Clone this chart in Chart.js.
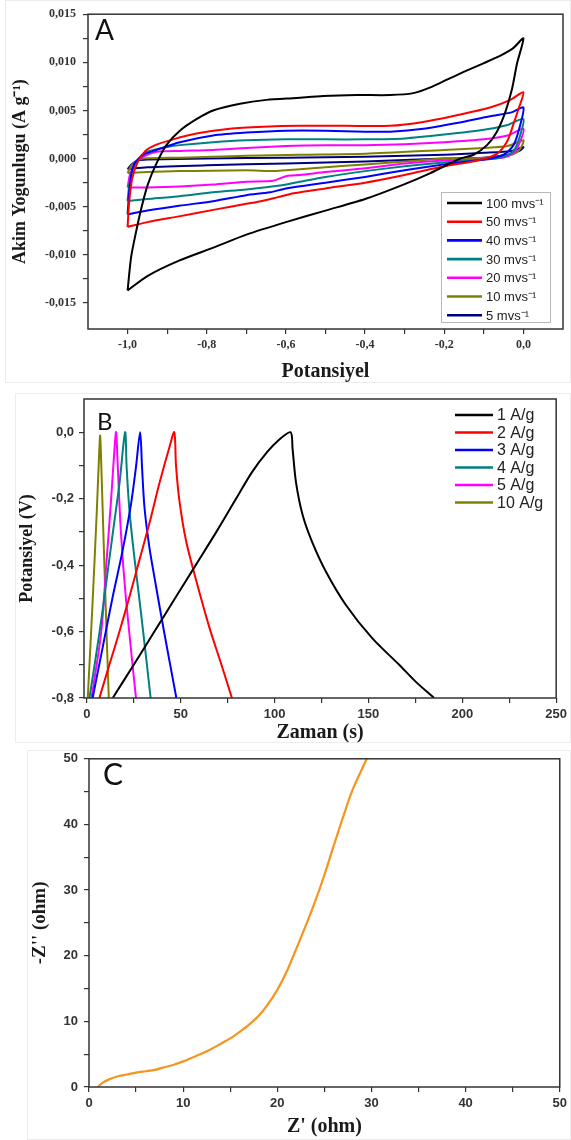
<!DOCTYPE html>
<html>
<head>
<meta charset="utf-8">
<script src="https://cdn.jsdelivr.net/npm/chart.js@4.4.1/dist/chart.umd.min.js"></script>
<style>
  html, body { margin: 0; padding: 0; background: #fff; }
  body { width: 571px; height: 1140px; overflow: hidden; }
  canvas { display: block; }
</style>
</head>
<body>
<canvas id="cvChart" width="571" height="385"></canvas>
<canvas id="gcdChart" width="571" height="360"></canvas>
<canvas id="eisChart" width="571" height="395"></canvas>
<script>
// ---------- A: cyclic voltammetry (potential V, current A/g), one loop per scan rate ----------
const cvRates = ['100 mvs⁻¹', '50 mvs⁻¹', '40 mvs⁻¹', '30 mvs⁻¹', '20 mvs⁻¹', '10 mvs⁻¹', '5 mvs⁻¹'];
const cvColors = ['#000000', '#ff0000', '#0000ff', '#008080', '#ff00ff', '#808000', '#000080'];

const cv100 = [
  [-1.0,-0.0137],[-0.991,-0.0102],[-0.978,-0.0075],[-0.965,-0.0051],[-0.949,-0.0027],[-0.927,-0.0005],
  [-0.902,0.0014],[-0.868,0.0029],[-0.826,0.0041],[-0.784,0.0050],[-0.716,0.0057],[-0.649,0.0061],
  [-0.573,0.0063],[-0.506,0.0065],[-0.421,0.0066],[-0.337,0.0066],[-0.278,0.0068],[-0.235,0.0074],
  [-0.193,0.0082],[-0.151,0.0090],[-0.101,0.0099],[-0.058,0.0107],[-0.025,0.0115],[0.0,0.0125],
  [-0.016,0.0099],[-0.029,0.0072],[-0.046,0.0048],[-0.067,0.0028],[-0.092,0.0014],[-0.126,0.0004],
  [-0.16,0.0],[-0.235,-0.0015],[-0.303,-0.0027],[-0.40,-0.0042],[-0.50,-0.0054],[-0.60,-0.0066],
  [-0.70,-0.0079],[-0.78,-0.0092],[-0.87,-0.0106],[-0.95,-0.0122],[-1.0,-0.0137]
];
const cv50 = [
  [-1.0,-0.0071],[-0.996,-0.0045],[-0.988,-0.0020],[-0.975,-0.0004],[-0.955,0.0008],[-0.93,0.0014],
  [-0.885,0.0020],[-0.826,0.0026],[-0.742,0.0031],[-0.657,0.0033],[-0.565,0.0034],[-0.45,0.0034],
  [-0.337,0.0034],[-0.253,0.0038],[-0.168,0.0045],[-0.084,0.0053],[-0.033,0.0061],[0.0,0.0069],
  [-0.012,0.0052],[-0.025,0.0036],[-0.041,0.0018],[-0.067,0.0005],[-0.117,-0.0002],[-0.2,-0.0008],
  [-0.3,-0.0017],[-0.4,-0.0025],[-0.5,-0.0031],[-0.58,-0.0036],[-0.62,-0.0040],[-0.66,-0.0044],
  [-0.70,-0.0047],[-0.78,-0.0053],[-0.87,-0.0060],[-0.95,-0.0066],[-1.0,-0.0071]
];
const cv40 = [
  [-1.0,-0.0058],[-0.996,-0.0035],[-0.99,-0.0015],[-0.982,-0.0005],[-0.96,0.0004],[-0.927,0.0009],
  [-0.868,0.0017],[-0.784,0.0024],[-0.70,0.0027],[-0.6,0.0029],[-0.5,0.0029],[-0.4,0.0028],
  [-0.337,0.0028],[-0.253,0.0031],[-0.168,0.0037],[-0.084,0.0044],[-0.03,0.0048],[0.0,0.0053],
  [-0.01,0.0032],[-0.025,0.0014],[-0.05,0.0004],[-0.1,-0.0001],[-0.2,-0.0006],[-0.3,-0.0012],
  [-0.4,-0.0019],[-0.5,-0.0025],[-0.6,-0.0031],[-0.64,-0.0035],[-0.70,-0.0038],[-0.78,-0.0044],
  [-0.87,-0.0049],[-0.95,-0.0054],[-1.0,-0.0058]
];
const cv30 = [
  [-1.0,-0.0044],[-0.995,-0.0025],[-0.985,-0.0008],[-0.97,0.0001],[-0.953,0.0007],[-0.9,0.0012],
  [-0.868,0.0014],[-0.784,0.0017],[-0.7,0.0019],[-0.6,0.0020],[-0.5,0.0020],[-0.4,0.0020],
  [-0.3,0.0021],[-0.2,0.0025],[-0.1,0.0030],[-0.04,0.0035],[0.0,0.0041],
  [-0.01,0.0022],[-0.025,0.0008],[-0.05,0.0002],[-0.1,-0.0001],[-0.2,-0.0004],[-0.3,-0.0008],
  [-0.4,-0.0013],[-0.5,-0.0019],[-0.565,-0.0024],[-0.615,-0.0028],[-0.7,-0.0032],[-0.784,-0.0035],
  [-0.868,-0.0039],[-0.95,-0.0042],[-1.0,-0.0044]
];
const cv20 = [
  [-1.0,-0.0030],[-0.993,-0.0015],[-0.98,-0.0005],[-0.96,0.0002],[-0.927,0.0007],[-0.868,0.0008],
  [-0.784,0.0009],[-0.7,0.0011],[-0.6,0.0013],[-0.5,0.0014],[-0.4,0.0014],[-0.3,0.0015],
  [-0.2,0.0017],[-0.1,0.0020],[-0.04,0.0024],[0.0,0.0031],
  [-0.01,0.0016],[-0.025,0.0006],[-0.05,0.0001],[-0.1,-0.0001],[-0.2,-0.0002],[-0.3,-0.0005],
  [-0.4,-0.0010],[-0.5,-0.0014],[-0.565,-0.0017],[-0.598,-0.0018],[-0.632,-0.0023],[-0.7,-0.0024],
  [-0.784,-0.0027],[-0.868,-0.0029],[-0.95,-0.0030],[-1.0,-0.0030]
];
const cv10 = [
  [-1.0,-0.0015],[-0.99,-0.0007],[-0.975,-0.0002],[-0.961,0.0],[-0.868,0.0001],[-0.7,0.0003],
  [-0.565,0.0004],[-0.4,0.0005],[-0.2,0.0009],[-0.1,0.0011],[-0.04,0.0013],[0.0,0.0019],
  [-0.01,0.0009],[-0.03,0.0004],[-0.1,0.0001],[-0.2,0.0],[-0.3,-0.0003],[-0.4,-0.0006],
  [-0.5,-0.0009],[-0.565,-0.0011],[-0.6,-0.0012],[-0.632,-0.0013],[-0.7,-0.0012],[-0.868,-0.0013],
  [-0.95,-0.0014],[-1.0,-0.0015]
];
const cv5 = [
  [-1.0,-0.0011],[-0.99,-0.0006],[-0.975,-0.0002],[-0.95,-0.0001],[-0.8,0.0],[-0.6,0.0001],
  [-0.4,0.0002],[-0.2,0.0004],[-0.1,0.0006],[-0.03,0.0008],[0.0,0.0012],
  [-0.01,0.0008],[-0.04,0.0004],[-0.1,0.0001],[-0.2,0.0],[-0.4,-0.0003],[-0.6,-0.0005],
  [-0.8,-0.0007],[-0.95,-0.0009],[-1.0,-0.0011]
];
const cvLoops = [cv100, cv50, cv40, cv30, cv20, cv10, cv5];
const cvVoltTicks = [-1.0, -0.8, -0.6, -0.4, -0.2, 0.0];
const cvCurrentTicks = [-0.015, -0.010, -0.005, 0.0, 0.005, 0.010, 0.015];

// ---------- B: galvanostatic charge/discharge (time s, potential V) ----------
const gcdLabels = ['1 A/g', '2 A/g', '3 A/g', '4 A/g', '5 A/g', '10 A/g'];
const gcdColors = ['#000000', '#ff0000', '#0000ff', '#008080', '#ff00ff', '#808000'];
const gcd1 = [
  [13.8,-0.8],[25,-0.70],[36,-0.60],[47,-0.50],[58,-0.40],[69,-0.30],[79,-0.205],[88,-0.12],
  [96,-0.06],[102,-0.025],[108.5,0.0],
  [109.6,-0.05],[111.4,-0.15],[115,-0.25],[120,-0.33],[127.4,-0.42],[138,-0.52],[152,-0.62],
  [166.4,-0.70],[175,-0.75],[185,-0.80]
];
const gcd2 = [
  [6.7,-0.8],[12,-0.70],[17.4,-0.60],[22.7,-0.495],[28,-0.385],[33.3,-0.275],[38.6,-0.155],
  [44,-0.045],[46.6,0.0],
  [47.5,-0.10],[49.3,-0.205],[52.8,-0.325],[58.2,-0.445],[65.2,-0.586],[71.5,-0.696],[77.3,-0.8]
];
const gcd3 = [
  [3.1,-0.8],[8.5,-0.646],[13.8,-0.495],[19.1,-0.355],[23.6,-0.214],[26.2,-0.104],[28.4,0.0],
  [29.4,-0.104],[30.7,-0.225],[33.3,-0.345],[36.9,-0.465],[41.3,-0.605],[47.7,-0.8]
];
const gcd4 = [
  [1.4,-0.8],[6.7,-0.605],[10.3,-0.455],[13.8,-0.305],[17.4,-0.154],[20.4,0.0],
  [21.2,-0.104],[22.7,-0.235],[25.3,-0.375],[28.9,-0.545],[34,-0.8]
];
const gcd5 = [
  [2.5,-0.8],[7.6,-0.605],[10.3,-0.405],[12.9,-0.205],[14.7,-0.054],[15.6,0.0],
  [16.5,-0.104],[18.2,-0.305],[20.9,-0.505],[26.2,-0.8]
];
const gcd10 = [
  [0.5,-0.8],[3.0,-0.52],[5.3,-0.24],[6.6,-0.06],[7.1,-0.01],
  [7.6,-0.08],[8.8,-0.30],[10.2,-0.55],[11.7,-0.8]
];
const gcdCurves = [gcd1, gcd2, gcd3, gcd4, gcd5, gcd10];
const gcdTimeTicks = [0, 50, 100, 150, 200, 250];
const gcdVoltTicks = [-0.8, -0.6, -0.4, -0.2, 0.0];

// ---------- C: Nyquist plot (Z' ohm, -Z'' ohm) ----------
const eisZre = [0.9, 1.5, 2.2, 3, 4, 5, 6, 7, 8, 9, 10, 11, 12, 13, 14, 15, 16, 17, 18, 19, 20, 21, 22, 23, 24, 25, 26, 27, 28, 29.5];
const eisZim = [0, 0.7, 1.2, 1.6, 1.9, 2.2, 2.4, 2.6, 3.0, 3.4, 3.9, 4.5, 5.1, 5.8, 6.6, 7.4, 8.4, 9.5, 10.8, 12.6, 14.8, 17.6, 21.0, 24.5, 28.2, 32.3, 36.8, 41.2, 45.3, 50];
const eisTicks = [0, 10, 20, 30, 40, 50];

// ---------- helpers ----------
const toPoints = arr => arr.map(p => ({ x: p[0], y: p[1] }));
const comma = (v, d) => v.toFixed(d).replace('.', ',').replace(/^-(0[,0]*)$/, '$1');

// majors plus the midpoints between them as unlabeled minor ticks
function withMinors(majors) {
  const out = [];
  majors.forEach((v, i) => {
    out.push(v);
    if (i < majors.length - 1) out.push((v + majors[i + 1]) / 2);
  });
  return out;
}
function isMajor(v, majors) {
  return majors.some(m => Math.abs(m - v) < 1e-9);
}

const frameBox = {
  id: 'frameBox',
  beforeDraw(chart, args, opts) {
    const { ctx } = chart;
    if (opts.panel) {
      const p = opts.panel;
      ctx.save();
      ctx.strokeStyle = '#ececec';
      ctx.lineWidth = 1;
      ctx.strokeRect(p[0] + 0.5, p[1] + 0.5, p[2], p[3]);
      ctx.restore();
    }
  },
  afterDraw(chart, args, opts) {
    const { ctx, chartArea: a } = chart;
    ctx.save();
    ctx.strokeStyle = '#333333';
    ctx.lineWidth = 1.5;
    ctx.strokeRect(a.left, a.top, a.right - a.left, a.bottom - a.top);
    if (opts.letter) {
      ctx.fillStyle = '#111111';
      ctx.font = opts.letterFont;
      ctx.textBaseline = 'alphabetic';
      ctx.fillText(opts.letter, opts.letterX, opts.letterY);
    }
    ctx.restore();
  }
};

const lineLegend = {
  id: 'lineLegend',
  afterDraw(chart, args, opts) {
    if (!opts.rowH) return;
    const { ctx } = chart;
    ctx.save();
    if (opts.box) {
      ctx.strokeStyle = '#b8b8b8';
      ctx.lineWidth = 1;
      ctx.strokeRect(opts.box[0] + 0.5, opts.box[1] + 0.5, opts.box[2], opts.box[3]);
    }
    ctx.font = opts.font;
    ctx.textBaseline = 'middle';
    chart.data.datasets.forEach((ds, i) => {
      const y = opts.y + i * opts.rowH;
      ctx.strokeStyle = ds.borderColor;
      ctx.lineWidth = 2.6;
      ctx.beginPath();
      ctx.moveTo(opts.x, y);
      ctx.lineTo(opts.x + opts.lineLen, y);
      ctx.stroke();
      ctx.fillStyle = '#222222';
      ctx.fillText(ds.label, opts.x + opts.lineLen + opts.gap, y + 1);
    });
    ctx.restore();
  }
};

function axis(opts) {
  return {
    type: 'linear',
    min: opts.min,
    max: opts.max,
    afterBuildTicks: s => { s.ticks = withMinors(opts.majors).map(v => ({ value: v })); },
    afterFit: s => { if (opts.width) s.width = opts.width; if (opts.height) s.height = opts.height; },
    grid: { drawOnChartArea: false, drawTicks: true, tickLength: 5, color: '#333333', lineWidth: 1.2 },
    border: { display: false },
    ticks: {
      autoSkip: false,
      maxRotation: 0,
      padding: opts.pad,
      color: '#333333',
      font: opts.tickFont,
      callback: v => isMajor(v, opts.majors) ? comma(v, opts.decimals) : ''
    },
    title: {
      display: true,
      text: opts.title,
      color: '#1a1a1a',
      font: opts.titleFont,
      padding: opts.titlePad
    }
  };
}

Chart.defaults.animation = false;
const serifTicks = { family: 'Liberation Serif', weight: 'bold', size: 12 };
const sansTicks = { family: 'Liberation Sans', weight: 'bold', size: 13 };
const serifTitle = size => ({ family: 'Liberation Serif', weight: 'bold', size });

// ---------- A ----------
new Chart(document.getElementById('cvChart'), {
  type: 'scatter',
  data: {
    datasets: cvLoops.map((loop, i) => ({
      label: cvRates[i],
      data: toPoints(loop),
      showLine: true,
      borderColor: cvColors[i],
      borderWidth: 2,
      pointRadius: 0,
      tension: 0.25
    }))
  },
  options: {
    responsive: false,
    layout: { padding: { top: 10, right: 8, bottom: 0, left: 0 } },
    scales: {
      x: axis({ min: -1.1, max: 0.1, majors: cvVoltTicks, decimals: 1, height: 56, pad: 4,
        tickFont: serifTicks, title: 'Potansiyel', titleFont: serifTitle(20), titlePad: { top: 0, bottom: 1 } }),
      y: axis({ min: -0.0177, max: 0.015, majors: cvCurrentTicks, decimals: 3, width: 88, pad: 7,
        tickFont: serifTicks, title: 'Akim Yogunlugu (A g⁻¹)', titleFont: serifTitle(18), titlePad: { top: 10, bottom: 0 } })
    },
    plugins: {
      legend: { display: false },
      tooltip: { enabled: false },
      frameBox: { letter: 'A', letterFont: '28px Lato', letterX: 95, letterY: 40, panel: [5, 0, 565, 382] },
      lineLegend: { x: 447, y: 203, rowH: 18.7, lineLen: 35, gap: 4, font: '13px "Liberation Sans"', box: [441, 192, 109, 130] }
    }
  },
  plugins: [frameBox, lineLegend]
});

// ---------- B ----------
new Chart(document.getElementById('gcdChart'), {
  type: 'scatter',
  data: {
    datasets: gcdCurves.map((c, i) => ({
      label: gcdLabels[i],
      data: toPoints(c),
      showLine: true,
      borderColor: gcdColors[i],
      borderWidth: 2,
      pointRadius: 0,
      tension: 0.3
    }))
  },
  options: {
    responsive: false,
    layout: { padding: { top: 14, right: 12, bottom: 0, left: 0 } },
    scales: {
      x: axis({ min: -1.5, max: 250, majors: gcdTimeTicks, decimals: 0, height: 47, pad: 4,
        tickFont: sansTicks, title: 'Zaman (s)', titleFont: serifTitle(20), titlePad: { top: 0, bottom: 0 } }),
      y: axis({ min: -0.8, max: 0.1, majors: gcdVoltTicks, decimals: 1, width: 84, pad: 5,
        tickFont: sansTicks, title: 'Potansiyel (V)', titleFont: serifTitle(18), titlePad: { top: 17, bottom: 0 } })
    },
    plugins: {
      legend: { display: false },
      tooltip: { enabled: false },
      frameBox: { letter: 'B', letterFont: '24px Lato', letterX: 97, letterY: 45, panel: [15, 8, 555, 349] },
      lineLegend: { x: 455, y: 30, rowH: 17.5, lineLen: 38, gap: 4, font: '16px "Liberation Sans"' }
    }
  },
  plugins: [frameBox, lineLegend]
});

// ---------- C ----------
new Chart(document.getElementById('eisChart'), {
  type: 'scatter',
  data: {
    datasets: [{
      label: 'Nyquist',
      data: eisZre.map((x, i) => ({ x, y: eisZim[i] })),
      showLine: true,
      borderColor: '#f7941d',
      borderWidth: 2.2,
      pointRadius: 0,
      tension: 0.3
    }]
  },
  options: {
    responsive: false,
    layout: { padding: { top: 9, right: 10, bottom: 0, left: 0 } },
    scales: {
      x: axis({ min: 0, max: 50, majors: eisTicks, decimals: 0, height: 53, pad: 4,
        tickFont: sansTicks, title: "Z' (ohm)", titleFont: serifTitle(20), titlePad: { top: 0, bottom: 1 } }),
      y: axis({ min: 0, max: 50, majors: eisTicks, decimals: 0, width: 89, pad: 6,
        tickFont: sansTicks, title: "-Z'' (ohm)", titleFont: serifTitle(19), titlePad: { top: 29, bottom: 0 } })
    },
    plugins: {
      legend: { display: false },
      tooltip: { enabled: false },
      frameBox: { letter: 'C', letterFont: '30px Lato', letterX: 103, letterY: 40, panel: [27, 5, 543, 389] },
      lineLegend: {}
    }
  },
  plugins: [frameBox, lineLegend]
});
</script>
</body>
</html>
